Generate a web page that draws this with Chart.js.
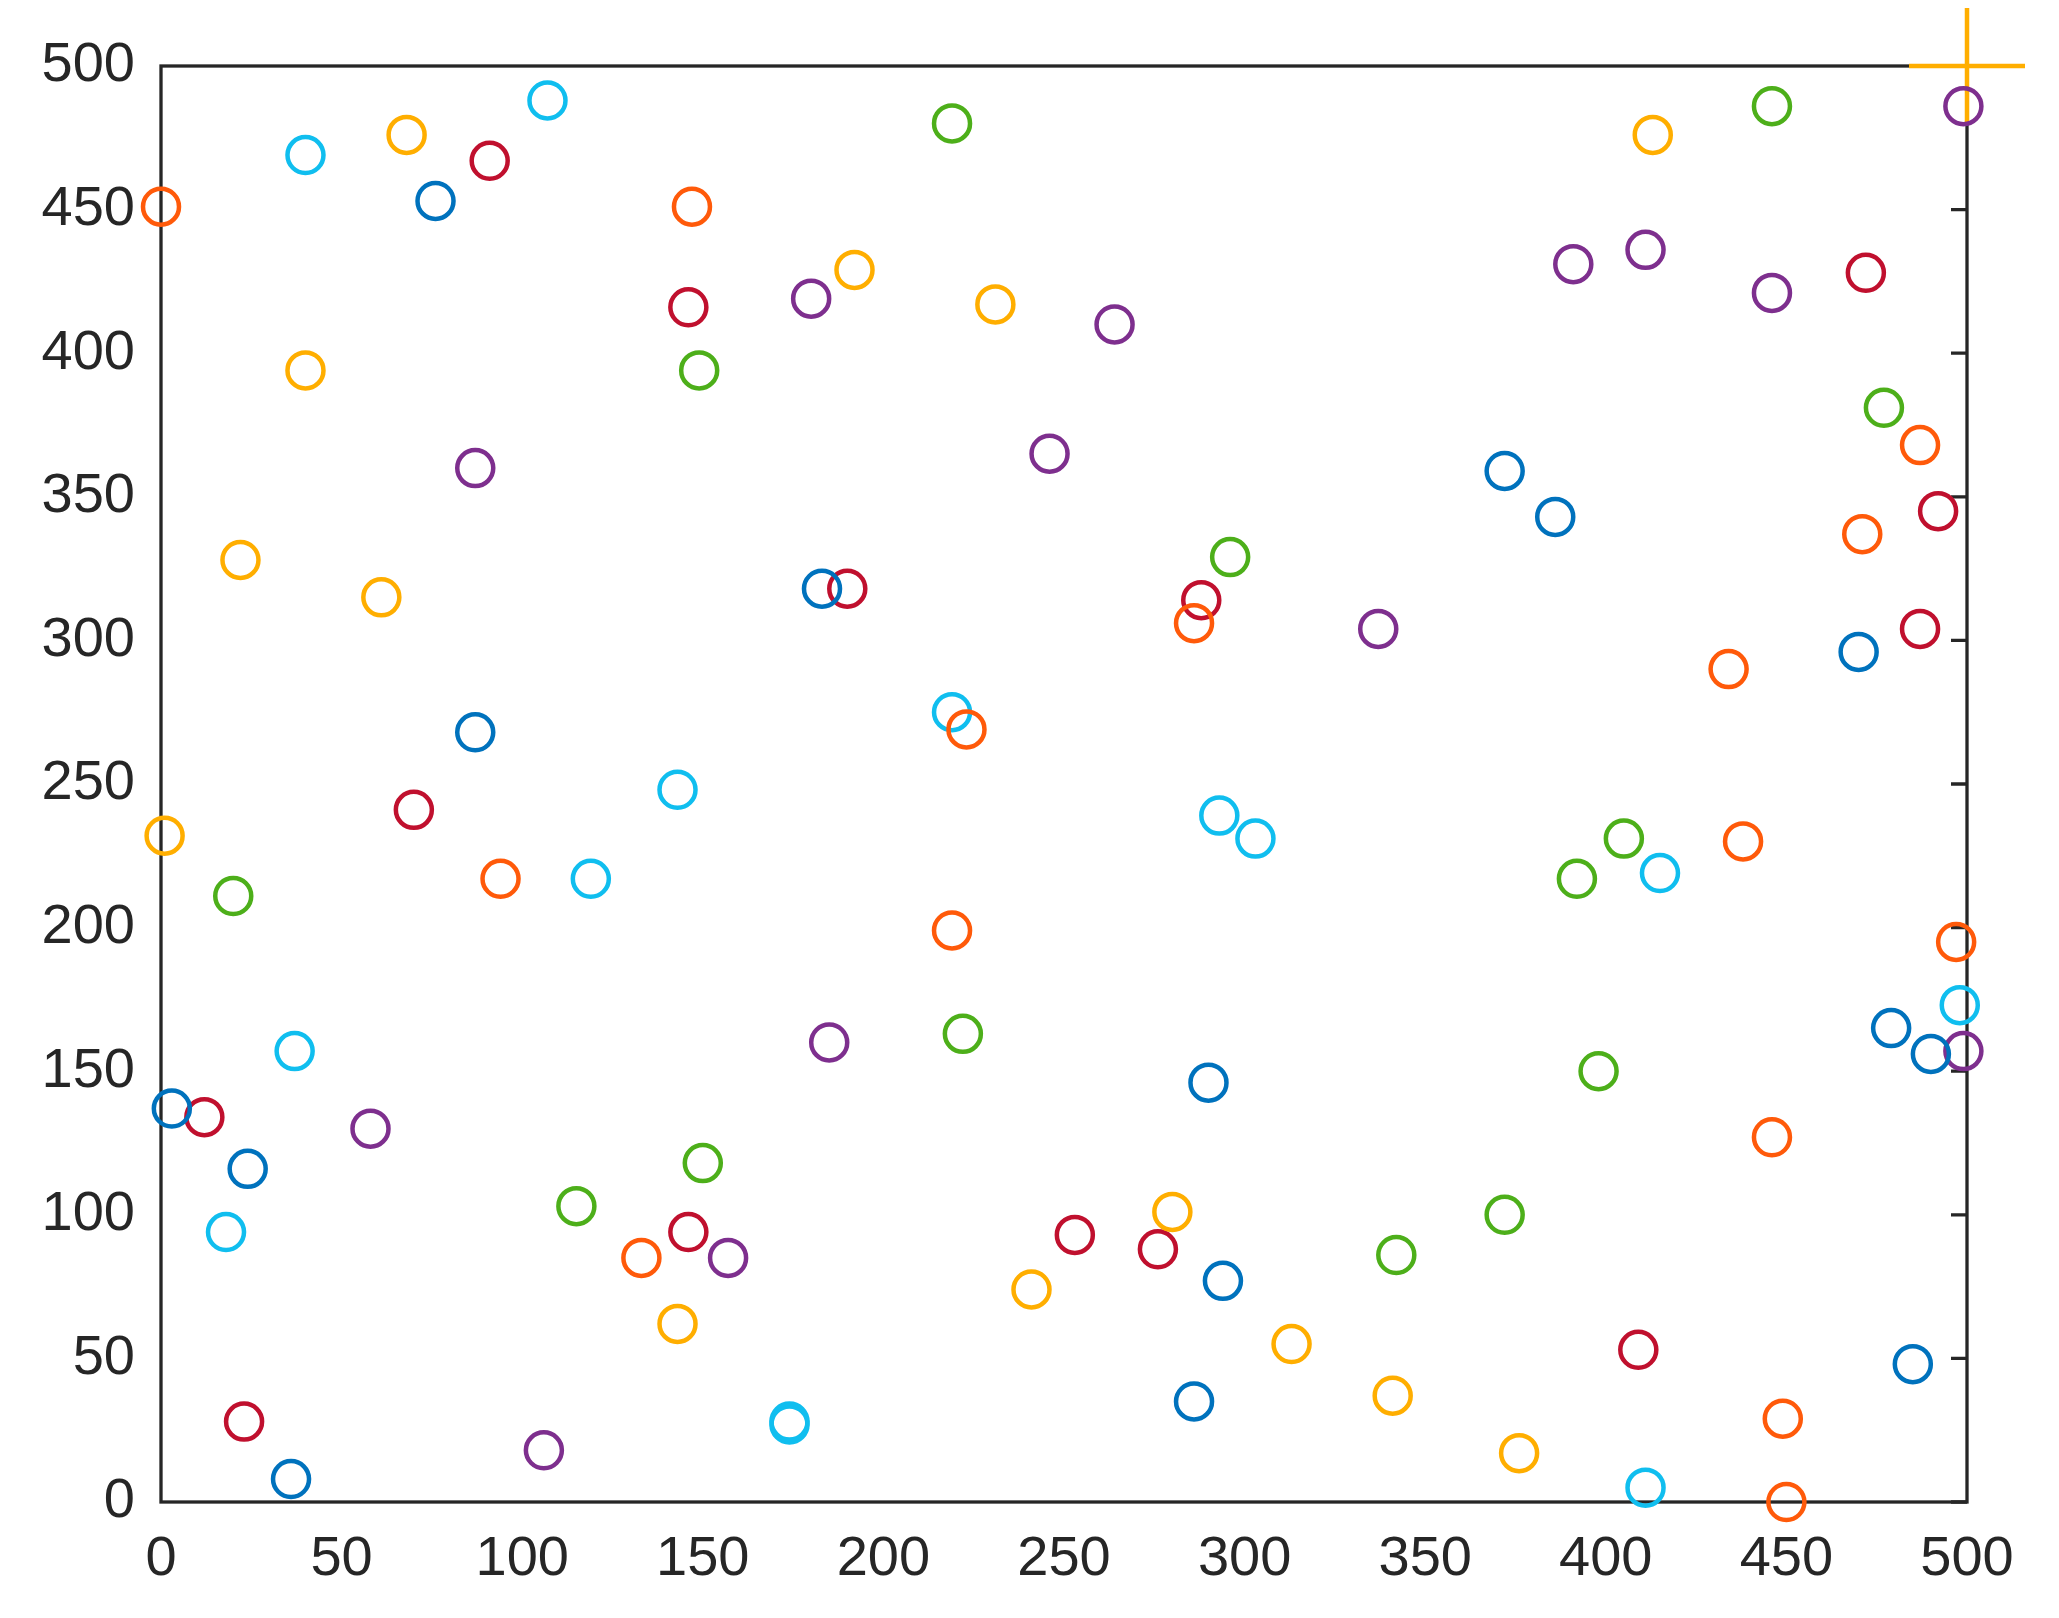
<!DOCTYPE html>
<html>
<head>
<script src="https://cdn.jsdelivr.net/npm/chart.js@4/dist/chart.umd.min.js"></script>
<style>
  html, body { margin: 0; padding: 0; background: #fff; }
  #wrap { width: 2059px; height: 1618px; }
</style>
</head>
<body>
<div id="wrap"><canvas id="c" width="2059" height="1618"></canvas></div>
<script>
// valeurs, [x, y]
const blue = [[3,137],[24,116],[36,8],[76,453],[87,268],[183,318],[286,35],[290,146],[294,77],[372,359],[386,343],[470,296],[479,165],[485,48],[490,156]];
const orange = [[0,451],[94,217],[133,85],[147,451],[223,269],[219,199],[286,306],[434,290],[438,230],[446,127],[449,29],[450,0],[471,337],[487,368],[497,195]];
const yellow = [[1,232],[22,328],[40,394],[61,315],[68,476],[143,62],[192,429],[231,417],[241,74],[280,101],[313,55],[341,37],[376,17],[413,476]];
const purple = [[58,130],[87,360],[106,18],[157,85],[180,419],[185,160],[246,365],[264,410],[337,304],[391,431],[411,436],[446,421],[499,486],[499,157]];
const green = [[20,211],[115,103],[149,394],[150,118],[219,480],[222,163],[296,329],[342,86],[372,100],[392,217],[398,150],[405,231],[446,486],[477,381]];
const cyan = [[18,94],[37,157],[40,469],[107,488],[119,217],[143,248],[174,27],[174,28],[219,275],[293,239],[303,231],[411,5],[415,219],[498,173]];
const darkred = [[12,134],[23,28],[70,241],[91,467],[146,416],[146,94],[190,318],[253,93],[276,88],[288,314],[409,53],[472,428],[487,304],[492,345]];
const cross = [[500,500]];
const ticks = [0, 50, 100, 150, 200, 250, 300, 350, 400, 450, 500];

const toPts = arr => arr.map(p => ({ x: p[0], y: p[1] }));
function serie(data, color) {
  return {
    data: toPts(data), showLine: false, pointStyle: 'circle',
    pointRadius: 18, pointBorderWidth: 4.5, borderColor: color,
    backgroundColor: 'rgba(0,0,0,0)', clip: false
  };
}

// cadre + graduations sur l'axe de droite
const frame = {
  id: 'frame',
  beforeDatasetsDraw(chart) {
    const { ctx, chartArea: a, scales } = chart;
    ctx.save();
    ctx.strokeStyle = '#262626';
    ctx.lineWidth = 3.3;
    ctx.strokeRect(a.left, a.top, a.right - a.left, a.bottom - a.top);
    ctx.beginPath();
    ticks.forEach(t => {
      const y = scales.y.getPixelForValue(t);
      ctx.moveTo(a.right, y); ctx.lineTo(a.right - 16, y);
    });
    ctx.stroke();
    ctx.restore();
  }
};

const font = { family: 'Liberation Sans, Arial', size: 56 };
new Chart(document.getElementById('c').getContext('2d'), {
  type: 'scatter',
  data: {
    datasets: [
      serie(blue, '#0072BD'),
      serie(orange, '#FF5A0A'),
      serie(yellow, '#FFAE00'),
      serie(purple, '#7E2F8E'),
      serie(green, '#4DAF1A'),
      serie(cyan, '#10BEEF'),
      serie(darkred, '#C0102E'),
      { data: toPts(cross), showLine: false, pointStyle: 'cross', pointRadius: 58,
        pointBorderWidth: 4.5, borderColor: '#FFAE00', clip: false }
    ]
  },
  options: {
    responsive: false, animation: false,
    layout: { padding: { top: 66, right: 92, left: 0, bottom: 0 } },
    plugins: { legend: { display: false }, tooltip: { enabled: false } },
    scales: {
      x: {
        type: 'linear', min: 0, max: 500,
        afterBuildTicks: s => { s.ticks = ticks.map(v => ({ value: v })); },
        afterFit: s => { s.height = 116; },
        grid: { display: false }, border: { display: false },
        ticks: { color: '#262626', font: font, padding: 16, maxRotation: 0 }
      },
      y: {
        type: 'linear', min: 0, max: 500,
        afterBuildTicks: s => { s.ticks = ticks.map(v => ({ value: v })); },
        afterFit: s => { s.width = 161; },
        grid: { display: false }, border: { display: false },
        ticks: { color: '#262626', font: font, padding: 18 }
      }
    }
  },
  plugins: [frame]
});
</script>
</body>
</html>
